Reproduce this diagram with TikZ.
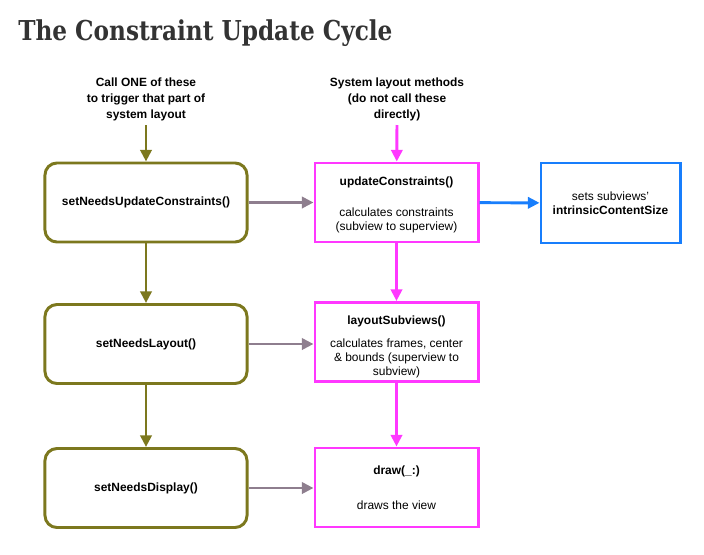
\documentclass[tikz,border=0pt]{standalone}
\usepackage{fontspec}
\setmainfont{Liberation Sans}
\newfontfamily\titlefont{DejaVu Serif}
\usetikzlibrary{arrows.meta}
\definecolor{olivebox}{RGB}{124,120,30}
\definecolor{magbox}{RGB}{255,56,255}
\definecolor{bluebox}{RGB}{24,126,252}
\definecolor{greyarrow}{RGB}{142,126,142}
\definecolor{titlegrey}{RGB}{51,51,51}
\begin{document}
\begin{tikzpicture}[x=0.025cm,y=-0.025cm]
			\tikzstyle{every node}=[font=\fontsize{8.5}{10.2}\selectfont]
			\tikzstyle{trigger}=[draw=olivebox,line width=2.1pt,rounded corners=0.3cm,minimum width=5.05cm,minimum height=1.975cm,font=\fontsize{8.5}{10.2}\selectfont\bfseries]
			\tikzstyle{system}=[draw=magbox,line width=2.1pt,minimum width=4.075cm,minimum height=1.975cm,align=center]
			\tikzstyle{every edge}=[draw,line width=2.1pt,-{Triangle[length=2.9mm,width=2.8mm]}]
			\useasboundingbox (0,0) rectangle (704,554);

			\node (title) at (18,33) [anchor=west,inner sep=0pt,font=\titlefont\fontsize{16.5}{20}\selectfont\bfseries,text=titlegrey] {\scalebox{1}[1.18]{The Constraint Update Cycle}};

			\node (calltext) at (146,99) [align=center,font=\fontsize{8.5}{11.4}\selectfont\bfseries] {Call ONE of these\\to trigger that part of\\system layout};
			\node (systext) at (397,99) [align=center,font=\fontsize{8.5}{11.4}\selectfont\bfseries] {System layout methods\\(do not call these\\directly)};
			\coordinate (calltop) at (146,125);
			\coordinate (systop) at (397,125);

			\node (needsupd) at (146,202.5) [trigger] {setNeedsUpdateConstraints()};
			\node (needslay) at (146,344) [trigger] {setNeedsLayout()};
			\node (needsdisp) at (146,488) [trigger] {setNeedsDisplay()};

			\node (updcons) at (396.5,202.5) [system,label={[align=center,yshift=-2pt]center:{\textbf{updateConstraints()}\\[11.5pt]calculates constraints\\(subview to superview)}}] {};
			\node (laysub) at (396.5,342) [system,label={[align=center,yshift=-3.5pt]center:{\textbf{layoutSubviews()}\\[6.2pt]calculates frames, center\\\& bounds (superview to\\subview)}}] {};
			\node (drawview) at (396.5,487.5) [system] {\textbf{draw(\_:)}\\[14.7pt]draws the view};

			\node (intrinsic) at (610.5,203) [draw=bluebox,line width=2.1pt,minimum width=3.475cm,minimum height=2cm,align=center] {sets subviews'\\\textbf{intrinsicContentSize}};

			\path [color=olivebox] (calltop) edge (needsupd);
			\path [color=olivebox] (needsupd) edge (needslay);
			\path [color=olivebox] (needslay) edge (needsdisp);

			\path [color=magbox] (systop) edge (updcons);
			\path [color=magbox] (updcons) edge (laysub);
			\path [color=magbox] (laysub) edge (drawview);

			\path [color=greyarrow] (needsupd) edge (updcons);
			\path [color=greyarrow] (needslay) edge (needslay -| laysub.west);
			\path [color=greyarrow] (needsdisp) edge (needsdisp -| drawview.west);

			\path [color=bluebox] (updcons) edge (intrinsic);
		\end{tikzpicture}
\end{document}
